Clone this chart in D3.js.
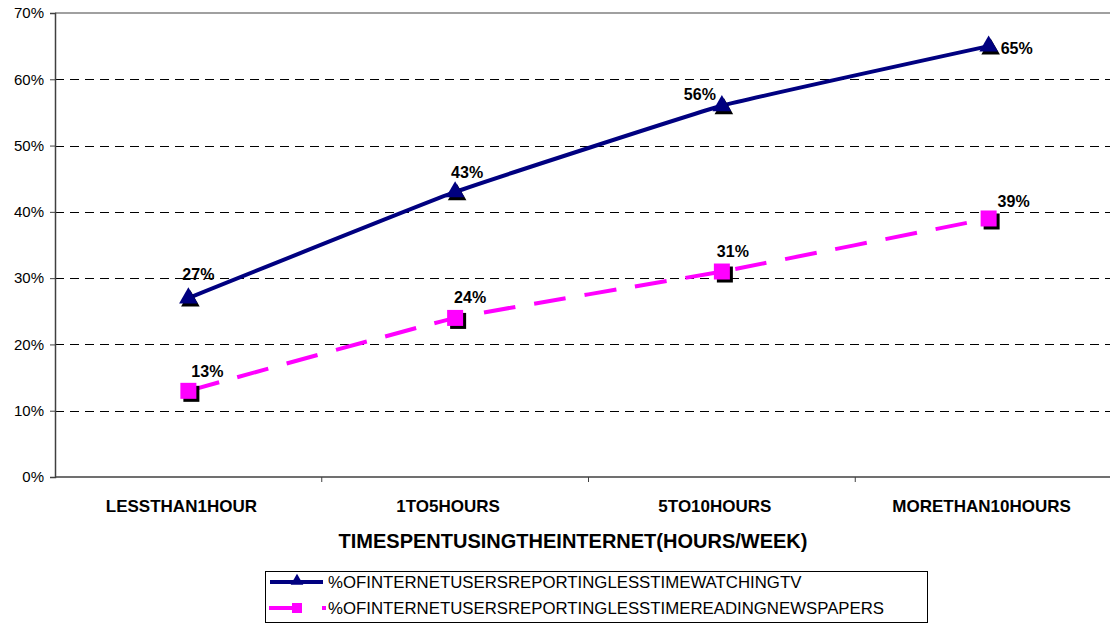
<!DOCTYPE html>
<html>
<head>
<meta charset="utf-8">
<script src="https://cdn.jsdelivr.net/npm/d3@7/dist/d3.min.js"></script>
<style>
  html, body { margin: 0; padding: 0; background: #fff; overflow: hidden; }
  svg { display: block; font-family: "Liberation Sans", Arial, sans-serif; }
</style>
</head>
<body>
<svg id="chart" width="1110" height="624"></svg>
<script>
// Data
const categories = ["LESSTHAN1HOUR", "1TO5HOURS", "5TO10HOURS", "MORETHAN10HOURS"];
const tvValues = [27, 43, 56, 65];
const paperValues = [13, 24, 31, 39];
const seriesNames = [
  "%OFINTERNETUSERSREPORTINGLESSTIMEWATCHINGTV",
  "%OFINTERNETUSERSREPORTINGLESSTIMEREADINGNEWSPAPERS"
];
const yTicks = [0, 10, 20, 30, 40, 50, 60, 70];
const xTitle = "TIMESPENTUSINGTHEINTERNET(HOURS/WEEK)";

const svg = d3.select("#chart");
const plot = { left: 55, top: 13, bottom: 477, right: 1122 };

const x = d3.scaleBand().domain(categories).range([plot.left, plot.right]);
const y = d3.scaleLinear().domain([0, 70]).range([plot.bottom, plot.top]);
const cx = c => x(c) + x.bandwidth() / 2;

// Horizontal gridlines (dashed), top edge solid
svg.append("g").selectAll("line")
  .data(yTicks.filter(t => t > 0 && t < 70))
  .join("line")
  .attr("x1", plot.left).attr("x2", plot.right)
  .attr("y1", d => Math.round(y(d)) + 0.5).attr("y2", d => Math.round(y(d)) + 0.5)
  .attr("stroke", "#000").attr("stroke-width", 1)
  .attr("stroke-dasharray", "9,6");
svg.append("line")
  .attr("x1", plot.left).attr("x2", plot.right)
  .attr("y1", y(70)).attr("y2", y(70))
  .attr("stroke", "#808080").attr("stroke-width", 1.5);

// Y axis
const yAxis = d3.axisLeft(y).tickValues(yTicks).tickFormat(d => d + "%").tickSize(5).tickPadding(6);
const gy = svg.append("g").attr("transform", `translate(${plot.left},0)`).call(yAxis);
gy.select(".domain").attr("stroke", "#404040").attr("stroke-width", 1.5);
gy.selectAll(".tick line").attr("stroke", "#404040");
gy.selectAll(".tick text").attr("font-size", 15).attr("fill", "#000")
  .attr("font-family", "'Liberation Sans', Arial, sans-serif");

// X axis with ticks between categories
const gx = svg.append("g").attr("transform", `translate(0,${plot.bottom})`);
gx.append("line").attr("x1", plot.left).attr("x2", plot.right)
  .attr("stroke", "#404040").attr("stroke-width", 1.5);
gx.selectAll("line.sep").data(categories.slice(1)).join("line")
  .attr("class", "sep")
  .attr("x1", d => x(d)).attr("x2", d => x(d))
  .attr("y1", 0).attr("y2", 5)
  .attr("stroke", "#404040");
gx.selectAll("text").data(categories).join("text")
  .attr("x", d => cx(d) - 7).attr("y", 35)
  .attr("text-anchor", "middle").attr("font-size", 17).attr("font-weight", "bold")
  .attr("fill", "#000").text(d => d);

// Axis title
svg.append("text").attr("x", 573).attr("y", 548)
  .attr("text-anchor", "middle").attr("font-size", 20).attr("font-weight", "bold")
  .attr("fill", "#000").text(xTitle);

const line = d3.line()
  .x((d, i) => cx(categories[i]))
  .y(d => y(d))
  .curve(d3.curveCardinal.tension(0.7));

// Series lines
svg.append("path").datum(tvValues).attr("d", line)
  .attr("fill", "none").attr("stroke", "#000080").attr("stroke-width", 4);
svg.append("path").datum(paperValues).attr("d", line)
  .attr("fill", "none").attr("stroke", "#FF00FF").attr("stroke-width", 4)
  .attr("stroke-dasharray", "32,19");

// Markers with drop shadow
const tri = d3.symbol().type(d3.symbolTriangle).size(150);
const triG = svg.append("g");
tvValues.forEach((v, i) => {
  const px = cx(categories[i]), py = y(v);
  triG.append("path").attr("d", tri()).attr("transform", `translate(${px + 2},${py + 3})`).attr("fill", "#000");
  triG.append("path").attr("d", tri()).attr("transform", `translate(${px},${py})`).attr("fill", "#000080");
});
const sqG = svg.append("g");
const s = 16;
paperValues.forEach((v, i) => {
  const px = cx(categories[i]), py = y(v);
  sqG.append("rect").attr("x", px - s / 2 + 3).attr("y", py - s / 2 + 3).attr("width", s).attr("height", s).attr("fill", "#000");
  sqG.append("rect").attr("x", px - s / 2).attr("y", py - s / 2).attr("width", s).attr("height", s).attr("fill", "#FF00FF");
});

// Value labels
const tvLabelOffset = [[10, -18], [12, -14], [-22, -6], [12, 8]];
const paperLabelOffset = [[19, -14], [15, -15], [11, -15], [25, -11]];
function labels(values, offsets, lastStart) {
  svg.append("g").selectAll("text").data(values).join("text")
    .attr("x", (d, i) => cx(categories[i]) + offsets[i][0])
    .attr("y", (d, i) => y(d) + offsets[i][1])
    .attr("text-anchor", (d, i) => lastStart && i === values.length - 1 ? "start" : "middle")
    .attr("font-size", 16).attr("font-weight", "bold").attr("fill", "#000")
    .text(d => d + "%");
}
labels(tvValues, tvLabelOffset, true);
labels(paperValues, paperLabelOffset, false);

// Legend
const lg = svg.append("g");
lg.append("rect").attr("x", 265.5).attr("y", 571.5).attr("width", 662).attr("height", 51)
  .attr("fill", "#fff").attr("stroke", "#000").attr("stroke-width", 1);
const ly = [582, 608];
lg.append("line").attr("x1", 270).attr("x2", 323).attr("y1", ly[0]).attr("y2", ly[0])
  .attr("stroke", "#000080").attr("stroke-width", 4);
lg.append("path").attr("d", d3.symbol().type(d3.symbolTriangle).size(70)())
  .attr("transform", `translate(297,${ly[0] - 1})`).attr("fill", "#000080");
lg.append("line").attr("x1", 269).attr("x2", 326).attr("y1", ly[1]).attr("y2", ly[1])
  .attr("stroke", "#FF00FF").attr("stroke-width", 4).attr("stroke-dasharray", "33,20");
lg.append("rect").attr("x", 292).attr("y", ly[1] - 5).attr("width", 10).attr("height", 10).attr("fill", "#FF00FF");
lg.selectAll("text.lt").data(seriesNames).join("text").attr("class", "lt")
  .attr("x", 328).attr("y", (d, i) => ly[i] + 6)
  .attr("font-size", 16.8).attr("fill", "#000").text(d => d);
</script>
</body>
</html>
